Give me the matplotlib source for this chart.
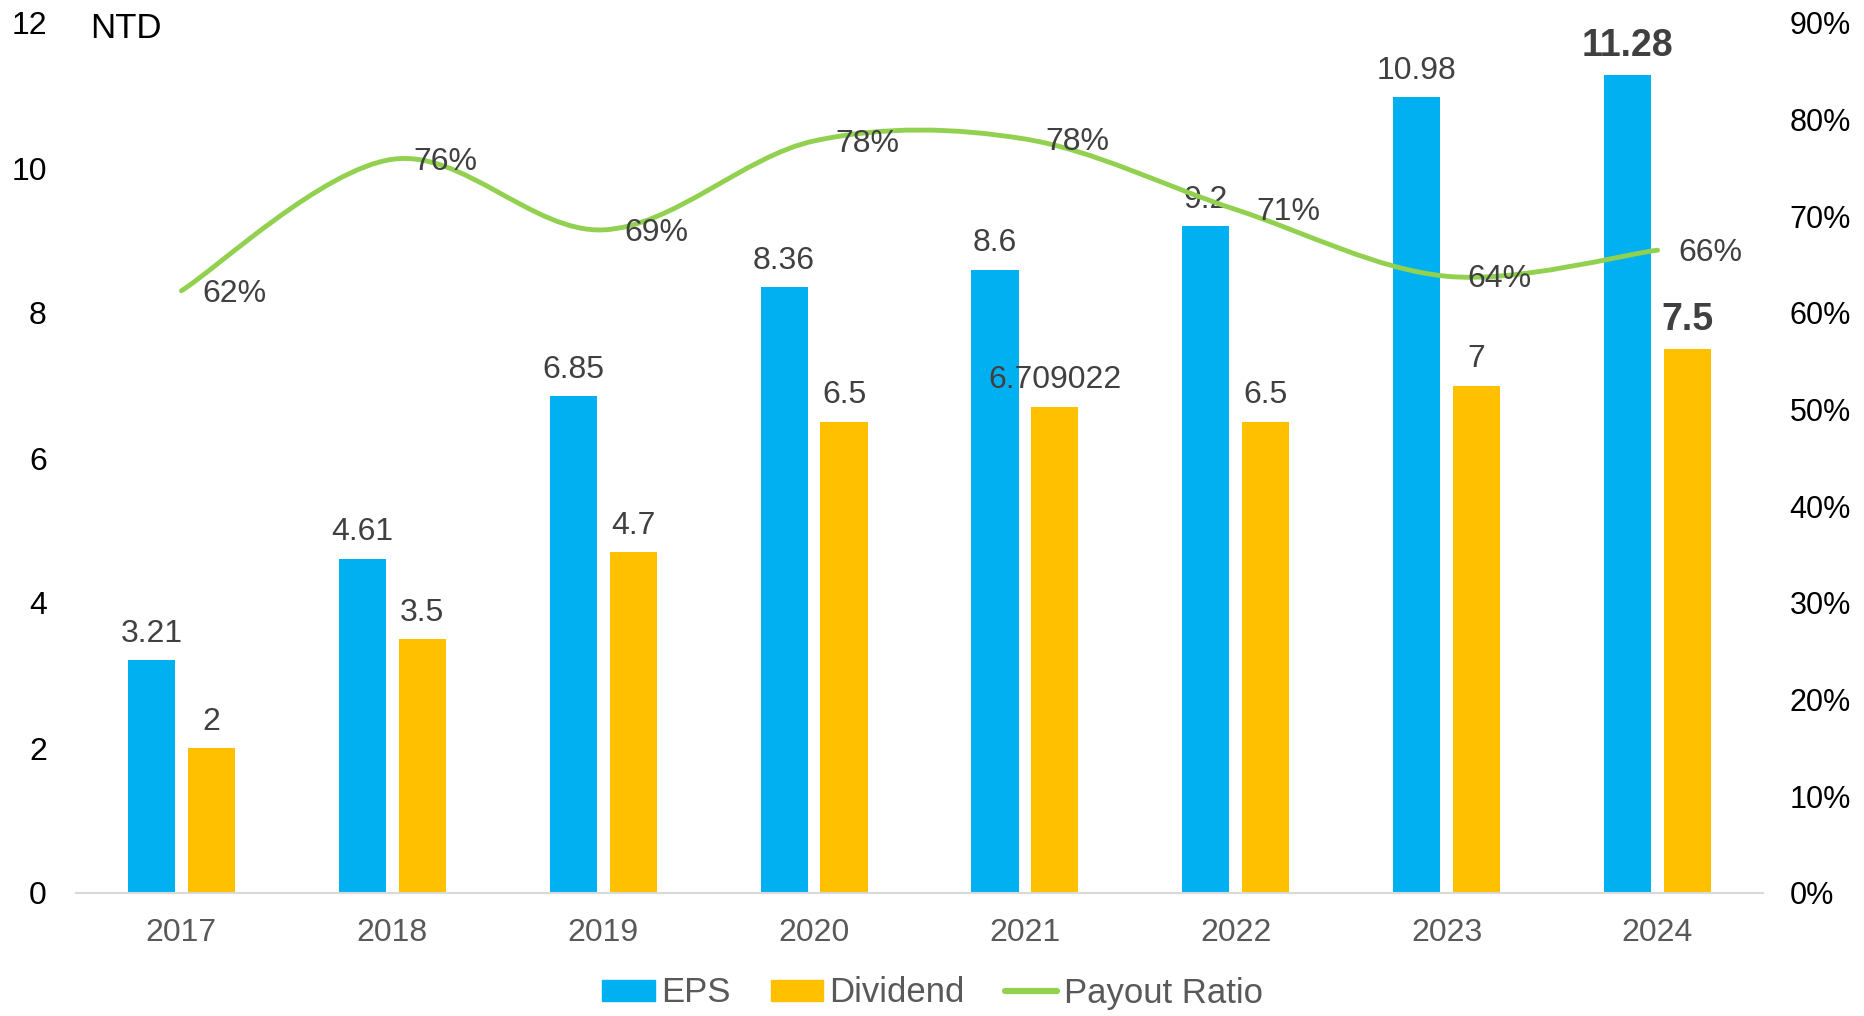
import numpy as np
import matplotlib.pyplot as plt
from matplotlib.path import Path
from matplotlib.patches import PathPatch, Patch
from matplotlib.lines import Line2D

plt.rcParams['font.family'] = ['Liberation Sans', 'DejaVu Sans']

# data
years = ['2017', '2018', '2019', '2020', '2021', '2022', '2023', '2024']
eps = [3.21, 4.61, 6.85, 8.36, 8.6, 9.2, 10.98, 11.28]
dividend = [2, 3.5, 4.7, 6.5, 6.709022, 6.5, 7, 7.5]
payout = [0.623, 0.759, 0.686, 0.778, 0.780, 0.707, 0.638, 0.665]
payout_labels = ['62%', '76%', '69%', '78%', '78%', '71%', '64%', '66%']

c_eps = '#00B0F0'
c_div = '#FFC000'
c_line = '#92D050'
c_lab = '#404040'

fig = plt.figure(figsize=(18.65, 10.16), dpi=100)
ax = fig.add_axes([76/1865, 1-893/1016, (1763-76)/1865, (893-23)/1016])
ax2 = ax.twinx()

x = np.arange(len(years))
w = 0.223
off = 0.142
ax.bar(x - off, eps, w, color=c_eps, zorder=2)
ax.bar(x + off, dividend, w, color=c_div, zorder=2)

ax.set_xlim(-0.5, len(years) - 0.5)
ax.set_ylim(0, 12)
ax.set_yticks(range(0, 13, 2))
ax.set_xticks(x)
ax.set_xticklabels(years, color='#595959', fontsize=23)
ax.tick_params(axis='x', length=0, pad=18)
ax.tick_params(axis='y', length=0, pad=21, labelsize=23, labelcolor='black')

for s in ['top', 'left', 'right']:
    ax.spines[s].set_visible(False)
    ax2.spines[s].set_visible(False)
ax.spines['bottom'].set_color('#D9D9D9')
ax.spines['bottom'].set_linewidth(1.5)
ax2.spines['bottom'].set_visible(False)

# bar labels
last = len(years) - 1
for i in range(len(years)):
    bold = 'bold' if i == last else 'normal'
    fs = 27 if i == last else 23
    dy = 21 if i == last else 19
    ax.annotate(str(eps[i]), (x[i] - off, eps[i]), xytext=(0, dy),
                textcoords='offset points', ha='center', va='center',
                fontsize=fs, fontweight=bold, color=c_lab)
    ax.annotate(str(dividend[i]), (x[i] + off, dividend[i]), xytext=(0, dy),
                textcoords='offset points', ha='center', va='center',
                fontsize=fs, fontweight=bold, color=c_lab)

# smoothed payout line (excel style bezier)
pts = np.column_stack([x, payout])
verts = [pts[0]]
codes = [Path.MOVETO]
n = len(pts)
for i in range(n - 1):
    p0 = pts[max(i - 1, 0)]
    p1 = pts[i]
    p2 = pts[i + 1]
    p3 = pts[min(i + 2, n - 1)]
    verts += [p1 + (p2 - p0) / 6, p2 - (p3 - p1) / 6, p2]
    codes += [Path.CURVE4] * 3
ax2.add_patch(PathPatch(Path(verts, codes), fill=False, ec=c_line, lw=3.5,
                        capstyle='round', zorder=3))

ax2.set_ylim(0, 0.9)
ax2.set_yticks(np.arange(0, 0.91, 0.1))
ax2.set_yticklabels(['{:.0%}'.format(v) for v in np.arange(0, 0.91, 0.1)])
ax2.tick_params(axis='y', length=0, pad=19, labelsize=22, labelcolor='black')

for i in range(len(years)):
    ax2.annotate(payout_labels[i], (x[i], payout[i]), xytext=(15, -2),
                 textcoords='offset points', ha='left', va='center',
                 fontsize=23, color=c_lab)

fig.text(90/1865, 1-28/1016, 'NTD', fontsize=25, color='black', ha='left', va='center')

handles = [Patch(color=c_eps), Patch(color=c_div),
           Line2D([], [], color=c_line, lw=4.5, solid_capstyle='round')]
leg = fig.legend(handles, ['EPS', 'Dividend', 'Payout Ratio'],
                 loc='center', bbox_to_anchor=(0.5, 1-993/1016), ncol=3,
                 frameon=False, fontsize=25, handlelength=1.5, handleheight=0.54,
                 handletextpad=0.2, columnspacing=1.14)
for t in leg.get_texts():
    t.set_color('#595959')

fig.savefig('out.png', dpi=100)
